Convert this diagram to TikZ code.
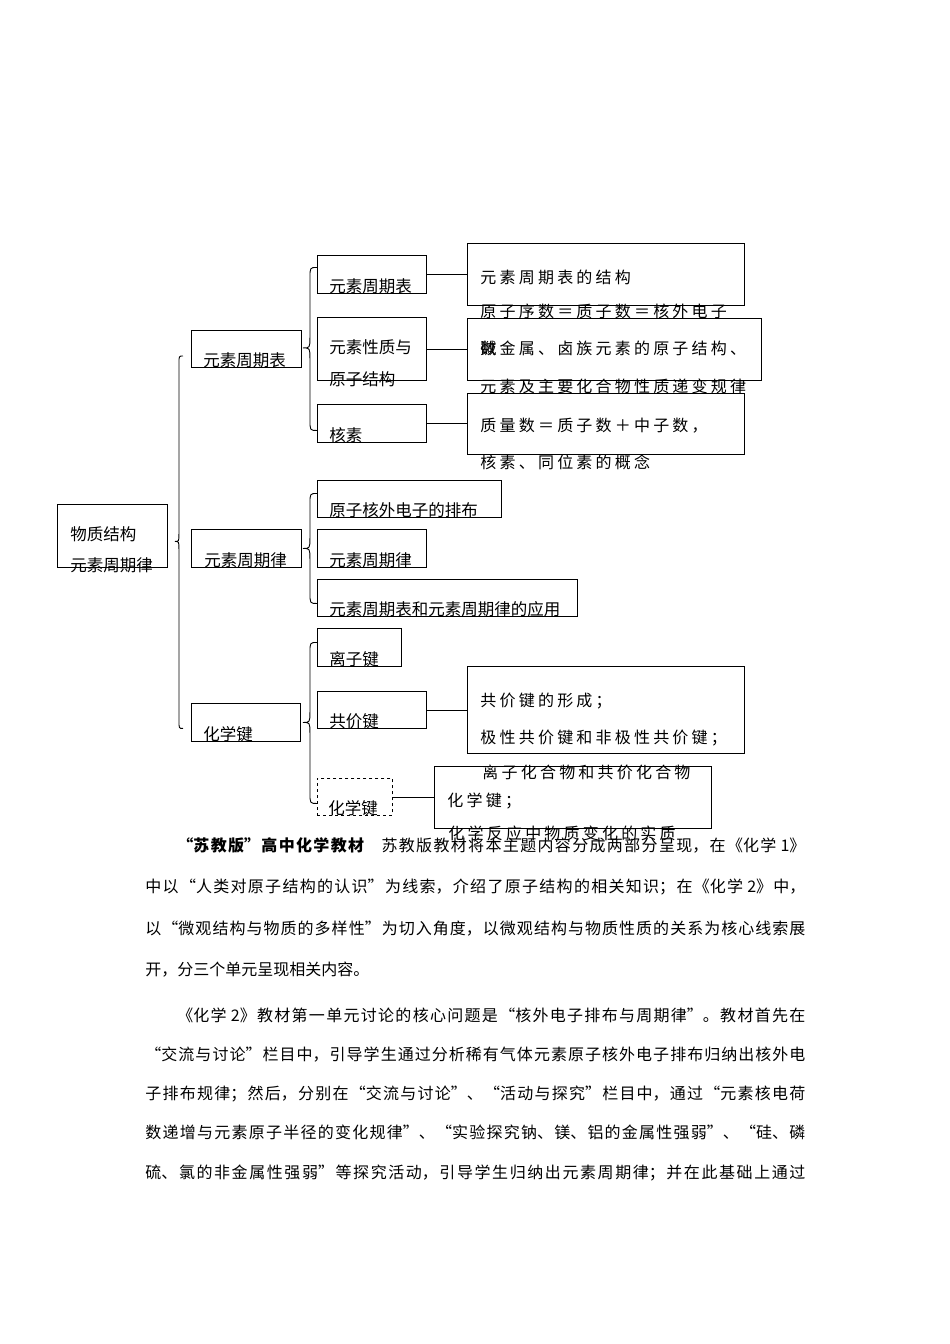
\documentclass[tikz,border=0pt]{standalone}
\usepackage{fontspec}
\usetikzlibrary{calc}
\newfontfamily\cjk{Noto Sans CJK SC}
\newfontfamily\cjkwide[LetterSpace=20]{Noto Sans CJK SC}
\XeTeXlinebreaklocale "zh"
\XeTeXlinebreakskip=0pt plus 4pt
\newcommand{\fillpar}{\parfillskip=0pt\relax}

\newcommand{\bracelink}[3]{%
	\draw let \p1=(#1), \p2=(#2), \p3=(#3),
		\n1={(\x1+\x2)/2}, \n2={(\x2-\x1)/2+4pt} in
		(\p2) .. controls (\n1,\y2) .. (\n1,\y2-\n2) -- (\n1,\y1+\n2)
		.. controls (\n1,\y1) .. (\p1) .. controls (\n1,\y1) .. (\n1,\y1-\n2)
		-- (\n1,\y3+\n2) .. controls (\n1,\y3) .. (\p3);}

\begin{document}
\begin{tikzpicture}[x=1pt, y=-1pt, line width=0.9pt,
	box node/.style={draw, anchor=north west, inner sep=0pt},
	box text/.style={anchor=base west, inner sep=0pt, font=\cjk\fontsize{16.5}{20}\selectfont},
	note text/.style={anchor=base west, inner sep=0pt, font=\cjkwide\fontsize{16}{19}\selectfont},
	para line/.style={anchor=base west, inner sep=0pt, text width=660pt, align=justify,
		font=\cjk\fontsize{16}{20}\selectfont},
	full line/.style={para line, execute at begin node=\fillpar}]
	
	\useasboundingbox (0,0) rectangle (950,1344);
	
	\node[box node, minimum width=110, minimum height=63] (root) at (57,504) {};
	\node[box node, minimum width=110, minimum height=37] (tab) at (191,330) {};
	\node[box node, minimum width=110, minimum height=38] (law) at (191,529) {};
	\node[box node, minimum width=109, minimum height=38] (bond) at (191,703) {};
	
	\node[box node, minimum width=109, minimum height=38] (tab1) at (317,255) {};
	\node[box node, minimum width=109, minimum height=63] (tab2) at (317,317) {};
	\node[box node, minimum width=109, minimum height=38] (tab3) at (317,404) {};
	\node[box node, minimum width=184, minimum height=37] (law1) at (317,480) {};
	\node[box node, minimum width=109, minimum height=38] (law2) at (317,529) {};
	\node[box node, minimum width=260, minimum height=37] (law3) at (317,579) {};
	\node[box node, minimum width=84, minimum height=38] (bond1) at (317,628) {};
	\node[box node, minimum width=109, minimum height=37] (bond2) at (317,691) {};
	\node[box node, dashed, minimum width=75, minimum height=37] (bond3) at (317,778) {};
	
	\node[box node, minimum width=277, minimum height=62] (note1) at (467,243) {};
	\node[box node, minimum width=294, minimum height=62] (note2) at (467,318) {};
	\node[box node, minimum width=277, minimum height=61] (note3) at (467,393) {};
	\node[box node, minimum width=277, minimum height=87] (note4) at (467,666) {};
	\node[box node, minimum width=277, minimum height=62] (note5) at (434,766) {};
	
	\bracelink{$(root.east)+(7,5.5)$}{$(tab.west)+(-8,7)$}{$(bond.west)+(-8,6)$}
	\bracelink{$(tab.east)+(1,-1)$}{$(tab1.west)+(0,-7)$}{$(tab3.west)+(0,7)$}
	\bracelink{$(law.east)+(1,0)$}{$(law1.west)+(0,-5.5)$}{$(law3.west)+(0,5.5)$}
	\bracelink{$(bond.east)+(2,0)$}{$(bond1.west)+(0,-5)$}{$(bond3.west)+(0,6.5)$}
	
	\draw (tab1.east) -- (tab1.east -| note1.west);
	\draw (tab2.east) -- (tab2.east -| note2.west);
	\draw (tab3.east) -- (tab3.east -| note3.west);
	\draw (bond2.east) -- (bond2.east -| note4.west);
	\draw (bond3.east) -- (bond3.east -| note5.west);
	
	\node[box text] (root-a) at ($(root.north west)+(13,36.5)$) {物质结构};
	\node[box text] (root-b) at ($(root.north west)+(13,67)$) {元素周期律};
	\node[box text] (tab-t) at ($(tab.south west)+(12,-1.5)$) {元素周期表};
	\node[box text] (law-t) at ($(law.south west)+(13,-1.5)$) {元素周期律};
	\node[box text] (bond-t) at ($(bond.south west)+(12,-1.5)$) {化学键};
	
	\node[box text] (tab1-t) at ($(tab1.south west)+(12,-1.5)$) {元素周期表};
	\node[box text] (tab2-a) at ($(tab2.south west)+(12,-27)$) {元素性质与};
	\node[box text] (tab2-b) at ($(tab2.south west)+(12,5)$) {原子结构};
	\node[box text] (tab3-t) at ($(tab3.south west)+(12,-1)$) {核素};
	\node[box text] (law1-t) at ($(law1.south west)+(12,-1.5)$) {原子核外电子的排布};
	\node[box text] (law2-t) at ($(law2.south west)+(12,-1.5)$) {元素周期律};
	\node[box text] (law3-t) at ($(law3.south west)+(12,-1.5)$) {元素周期表和元素周期律的应用};
	\node[box text] (bond1-t) at ($(bond1.south west)+(12,-1.5)$) {离子键};
	\node[box text] (bond2-t) at ($(bond2.south west)+(12,-1)$) {共价键};
	\node[box text] (bond3-t) at ($(bond3.south west)+(11,-1.5)$) {化学键};
	
	\node[note text] (note1-a) at ($(note1.north west)+(13,40)$) {元素周期表的结构};
	\node[note text] (note2-a) at ($(note2.north west)+(13,-1)$) {原子序数＝质子数＝核外电子};
	\node[note text] (note2-b) at ($(note2.north west)+(13,36)$) {数};
	\node[note text] (note2-c) at ($(note2.north west)+(13,36)$) {碱金属、卤族元素的原子结构、};
	\node[note text] (note2-d) at ($(note2.north west)+(13,74)$) {元素及主要化合物性质递变规律};
	\node[note text] (note3-a) at ($(note3.north west)+(13,38)$) {质量数＝质子数＋中子数，};
	\node[note text] (note3-b) at ($(note3.north west)+(13,75)$) {核素、同位素的概念};
	\node[note text] (note4-a) at ($(note4.north west)+(13,40)$) {共价键的形成；};
	\node[note text] (note4-b) at ($(note4.north west)+(13,77)$) {极性共价键和非极性共价键；};
	\node[note text] (note4-c) at ($(note4.north west)+(15,112)$) {离子化合物和共价化合物};
	\node[note text] (note5-a) at ($(note5.north west)+(13,40)$) {化学键；};
	\node[note text] (note5-b) at ($(note5.north west)+(14,73)$) {化学反应中物质变化的实质};
	
	\node[full line] (line1) at (145,851) {\hspace*{2em}{\bfseries “苏教版”高中化学教材}　苏教版教材将本主题内容分成两部分呈现，在《化学 1》};
	\node[full line] (line2) at (145,892) {中以“人类对原子结构的认识”为线索，介绍了原子结构的相关知识；在《化学 2》中，};
	\node[full line] (line3) at (145,934) {以“微观结构与物质的多样性”为切入角度，以微观结构与物质性质的关系为核心线索展};
	\node[para line] (line4) at (145,975) {开，分三个单元呈现相关内容。};
	\node[full line] (line5) at (145,1021) {\hspace*{2em}《化学 2》教材第一单元讨论的核心问题是“核外电子排布与周期律”。教材首先在};
	\node[full line] (line6) at (145,1060) {“交流与讨论”栏目中，引导学生通过分析稀有气体元素原子核外电子排布归纳出核外电};
	\node[full line] (line7) at (145,1099) {子排布规律；然后，分别在“交流与讨论”、“活动与探究”栏目中，通过“元素核电荷};
	\node[full line] (line8) at (145,1138) {数递增与元素原子半径的变化规律”、“实验探究钠、镁、铝的金属性强弱”、“硅、磷};
	\node[full line] (line9) at (145,1178) {硫、氯的非金属性强弱”等探究活动，引导学生归纳出元素周期律；并在此基础上通过};
\end{tikzpicture}
\end{document}
